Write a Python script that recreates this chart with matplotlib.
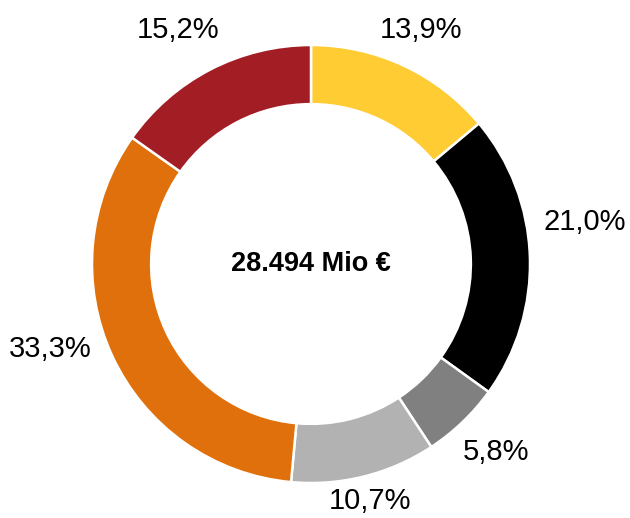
"""Donut chart: share of total, 28.494 Mio €."""

import matplotlib.pyplot as plt

plt.rcParams["font.family"] = ["Liberation Sans", "DejaVu Sans"]

SHARES = [13.9, 21.0, 5.8, 10.7, 33.3, 15.2]
LABELS = ["13,9%", "21,0%", "5,8%", "10,7%", "33,3%", "15,2%"]
COLORS = ["#FFCC33", "#000000", "#808080", "#B2B2B2", "#E0700B", "#A31D25"]
TOTAL_TEXT = "28.494 Mio €"

# Excel "best fit" label placement, as small shifts from the wedge midline (radius units)
LABEL_NUDGE = [(0.0, -0.01), (0.06, 0.15), (0.02, 0.0), (-0.02, 0.07), (-0.11, 0.11), (-0.06, 0.01)]


def main():
    fig = plt.figure(figsize=(6.3, 5.18), dpi=100)
    ax = fig.add_axes([92 / 630, 35 / 518, 438 / 630, 438 / 518])

    wedges, texts = ax.pie(
        SHARES,
        labels=LABELS,
        colors=COLORS,
        startangle=90,
        counterclock=False,
        labeldistance=1.19,
        wedgeprops={"width": 0.27, "edgecolor": "white", "linewidth": 1.8},
        textprops={"fontsize": 21, "color": "black"},
    )
    for text, (dx, dy) in zip(texts, LABEL_NUDGE):
        x, y = text.get_position()
        text.set_position((x + dx, y + dy))
        text.set_horizontalalignment("center")
        text.set_verticalalignment("center")

    ax.text(0, 0, TOTAL_TEXT, ha="center", va="center",
            fontsize=19.5, fontweight="bold")
    ax.set_xlim(-1, 1)
    ax.set_ylim(-1, 1)
    ax.set_aspect("equal")

    fig.savefig("out.png", dpi=100, facecolor="white")
    plt.close(fig)


if __name__ == "__main__":
    main()
